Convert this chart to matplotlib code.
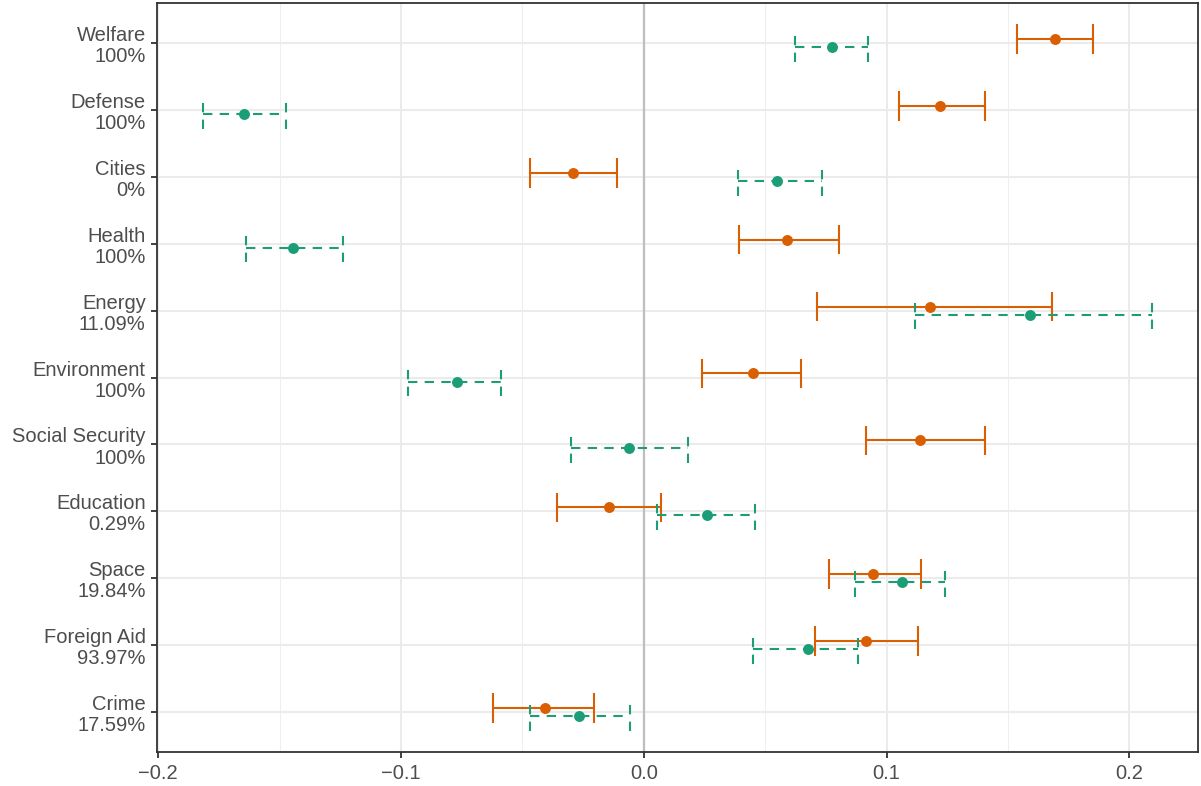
import matplotlib.pyplot as plt
import numpy as np

plt.rcParams['font.family'] = ['Liberation Sans', 'DejaVu Sans']

# Data (top to bottom)
categories = ["Welfare", "Defense", "Cities", "Health", "Energy", "Environment",
              "Social Security", "Education", "Space", "Foreign Aid", "Crime"]
shares = ["100%", "100%", "0%", "100%", "11.09%", "100%",
          "100%", "0.29%", "19.84%", "93.97%", "17.59%"]

# orange series (solid)
orange_est = [0.1695, 0.122, -0.0293, 0.059, 0.118, 0.045, 0.1138, -0.0144, 0.0944, 0.0915, -0.0408]
orange_lo = [0.1538, 0.105, -0.047, 0.0392, 0.0713, 0.0239, 0.0915, -0.0359, 0.0763, 0.0705, -0.0623]
orange_hi = [0.185, 0.1406, -0.0111, 0.0804, 0.1682, 0.0647, 0.1406, 0.007, 0.1142, 0.113, -0.0206]

# green series (dashed)
green_est = [0.0775, -0.1645, 0.0548, -0.1443, 0.159, -0.0771, -0.0062, 0.026, 0.1064, 0.0676, -0.0268]
green_lo = [0.0623, -0.1814, 0.0388, -0.1637, 0.1118, -0.0973, -0.0301, 0.0054, 0.087, 0.0449, -0.047]
green_hi = [0.0924, -0.1472, 0.0734, -0.1237, 0.2095, -0.0586, 0.0181, 0.0458, 0.1241, 0.0882, -0.0058]

orange = '#D95F02'
green = '#1B9E77'

n = len(categories)
ypos = np.arange(n)[::-1]
labels = [c + "\n" + s for c, s in zip(categories, shares)]

fig = plt.figure(figsize=(12.01, 7.86), dpi=100)
ax = fig.add_axes([157 / 1201, 34 / 786, (1198 - 157) / 1201, (752 - 3) / 786])

# grid
ax.set_xticks([-0.2, -0.1, 0.0, 0.1, 0.2])
ax.set_xticks([-0.15, -0.05, 0.05, 0.15], minor=True)
ax.set_xticklabels(['\u22120.2', '\u22120.1', '0.0', '0.1', '0.2'])
ax.set_yticks(ypos)
ax.set_yticklabels(labels, linespacing=1.15)
ax.grid(True, which='major', color='#EBEBEB', lw=1.5, zorder=0)
ax.grid(True, which='minor', axis='x', color='#EFEFEF', lw=0.8, zorder=0)
ax.set_axisbelow(True)

ax.axvline(0, color='#BEBEBE', lw=1.6, zorder=1)

off = 0.06
cap = 0.22
yo = ypos + off
yg = ypos - off

# orange
ax.hlines(yo, orange_lo, orange_hi, color=orange, lw=1.5, zorder=3)
ax.vlines(orange_lo, yo - cap, yo + cap, color=orange, lw=1.5, zorder=3)
ax.vlines(orange_hi, yo - cap, yo + cap, color=orange, lw=1.5, zorder=3)
ax.scatter(orange_est, yo, s=62, color=orange, zorder=4, linewidths=0)

# green
dash = (0, (4.5, 3.5))
ax.hlines(yg, green_lo, green_hi, color=green, lw=1.5, linestyles=[dash], zorder=3)
ax.vlines(green_lo, yg - cap, yg + cap, color=green, lw=1.5, linestyles=[dash], zorder=3)
ax.vlines(green_hi, yg - cap, yg + cap, color=green, lw=1.5, linestyles=[dash], zorder=3)
ax.scatter(green_est, yg, s=62, color=green, zorder=4, linewidths=0)

ax.set_xlim(-0.2005, 0.2283)
ax.set_ylim(-0.6, n - 1 + 0.6)

for sp in ax.spines.values():
    sp.set_color('#333333')
    sp.set_linewidth(1.3)
ax.tick_params(which='major', length=4.3, width=1.3, color='#333333',
               labelcolor='#4D4D4D', labelsize=14.5)
ax.tick_params(axis='y', pad=3.8)
ax.tick_params(axis='x', pad=4)
ax.tick_params(which='minor', length=0)

fig.savefig('out.png', dpi=100)
